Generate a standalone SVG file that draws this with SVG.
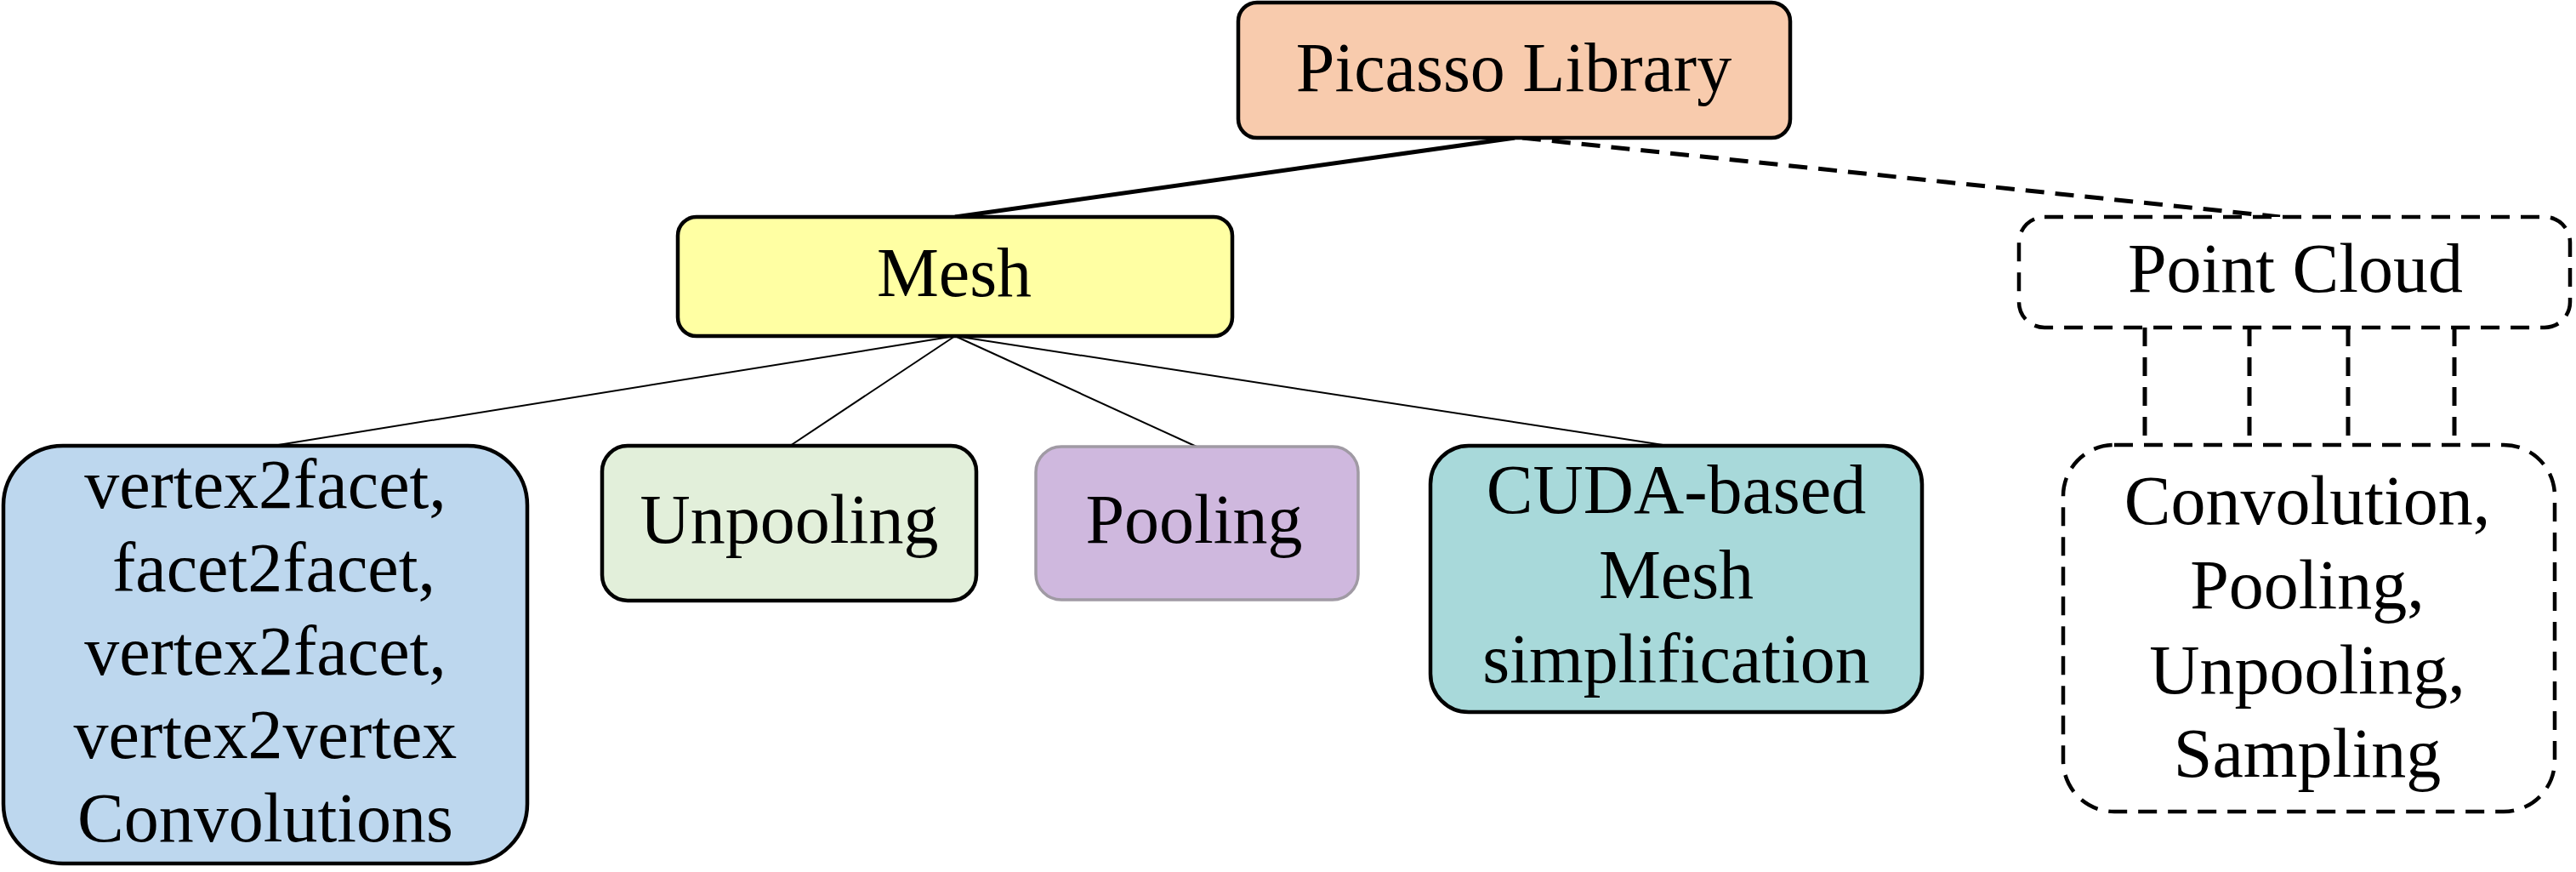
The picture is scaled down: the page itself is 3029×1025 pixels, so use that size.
<svg xmlns="http://www.w3.org/2000/svg" width="3029" height="1025" viewBox="0 0 3029 1025">
<style>
.box{stroke:#000;stroke-width:4.5}
.dbox{fill:#fff;stroke:#000;stroke-width:4.5;stroke-dasharray:22 13}
.t{font-family:"Liberation Serif","Times New Roman",serif;font-size:82px;fill:#000;text-anchor:middle}
.thin{stroke:#000;stroke-width:2;fill:none}
.thick{stroke:#000;stroke-width:5;fill:none}
.dash{stroke:#000;stroke-width:5;fill:none;stroke-dasharray:22 13}
</style>
<rect width="3029" height="1025" fill="#fff"/>
<g id="connectors">
<line class="thick" x1="1781" y1="162" x2="1123" y2="255"/>
<line class="dash" x1="1790" y1="162" x2="2681" y2="255"/>
<line class="thin" x1="1123" y1="395" x2="321" y2="524"/>
<line class="thin" x1="1123" y1="395" x2="929" y2="524"/>
<line class="thin" x1="1123" y1="395" x2="1407" y2="525"/>
<line class="thin" x1="1123" y1="395" x2="1962" y2="524"/>
<line class="dash" x1="2522" y1="385" x2="2522" y2="523"/>
<line class="dash" x1="2645" y1="385" x2="2645" y2="523"/>
<line class="dash" x1="2761" y1="385" x2="2761" y2="523"/>
<line class="dash" x1="2886" y1="385" x2="2886" y2="523"/>
</g>
<g id="picasso">
<rect class="box" x="1456" y="3" width="649" height="159" rx="22" fill="#F8CBAD"/>
<text class="t" x="1780" y="107">Picasso Library</text>
</g>
<g id="mesh">
<rect class="box" x="797" y="255" width="652" height="140" rx="22" fill="#FFFFA3"/>
<text class="t" x="1122" y="348">Mesh</text>
</g>
<g id="pointcloud">
<rect class="dbox" x="2374" y="255" width="648" height="130" rx="30"/>
<text class="t" x="2699" y="343">Point Cloud</text>
</g>
<g id="convolutions">
<rect class="box" x="4" y="524" width="616" height="491" rx="70" fill="#BDD7EE"/>
<text class="t" x="312" y="597">vertex2facet,</text>
<text class="t" x="322" y="695">facet2facet,</text>
<text class="t" x="312" y="793">vertex2facet,</text>
<text class="t" x="312" y="891">vertex2vertex</text>
<text class="t" x="312" y="989">Convolutions</text>
</g>
<g id="unpooling">
<rect class="box" x="708" y="524" width="440" height="182" rx="30" fill="#E2EFDA"/>
<text class="t" x="928" y="638">Unpooling</text>
</g>
<g id="pooling">
<rect x="1218" y="525" width="379" height="180" rx="30" fill="#CFB8DE" stroke="#A09AA4" stroke-width="3.5"/>
<text class="t" x="1404" y="638">Pooling</text>
</g>
<g id="cuda">
<rect class="box" x="1682" y="524" width="578" height="313" rx="45" fill="#A8D9DA"/>
<text class="t" x="1971" y="603">CUDA-based</text>
<text class="t" x="1971" y="703">Mesh</text>
<text class="t" x="1971" y="802">simplification</text>
</g>
<g id="pc-ops">
<rect class="dbox" x="2426" y="523" width="578" height="431" rx="60"/>
<text class="t" x="2713" y="616">Convolution,</text>
<text class="t" x="2713" y="715">Pooling,</text>
<text class="t" x="2713" y="815">Unpooling,</text>
<text class="t" x="2713" y="913">Sampling</text>
</g>
</svg>
